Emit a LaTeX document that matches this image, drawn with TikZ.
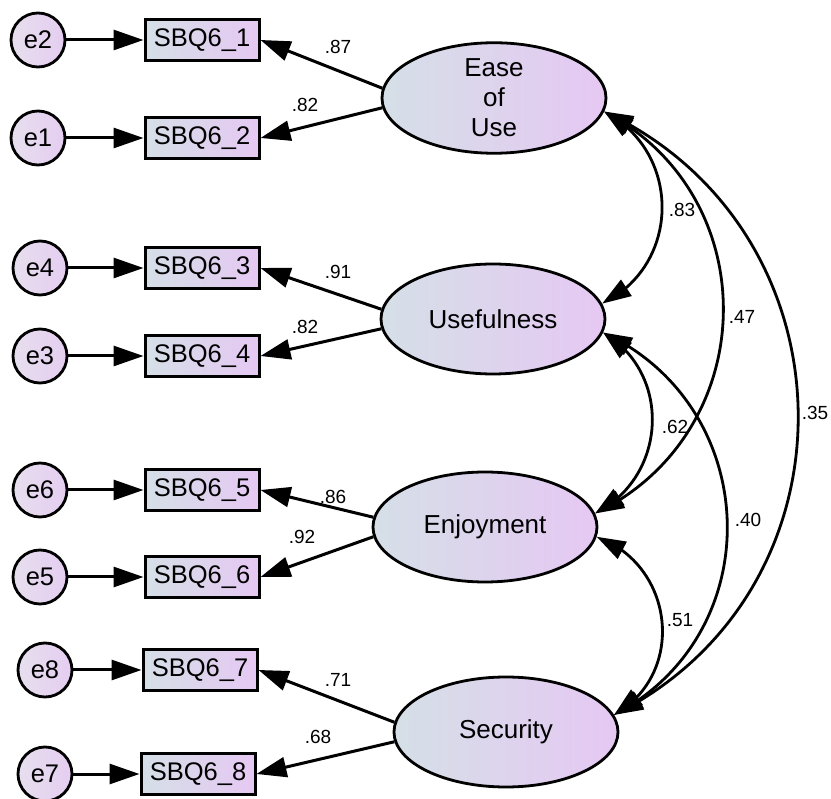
\documentclass[tikz,border=0pt]{standalone}
\usepackage{fontspec}
\setmainfont{Liberation Sans}
\usetikzlibrary{arrows.meta,shapes.geometric,bending}
\definecolor{paleblue}{HTML}{D5DFE7}
\definecolor{lavender}{HTML}{E6C8F3}
\definecolor{errleft}{HTML}{E6DFEE}
\definecolor{errright}{HTML}{E5CDF1}

\begin{document}
\begin{tikzpicture}[x=1pt,y=-1pt,
  latent/.style={ellipse,draw,line width=2.8pt,minimum width=224pt,minimum height=110pt,
    inner sep=0pt,left color=paleblue,right color=lavender,align=center,
    font=\fontsize{26}{30}\selectfont},
  item/.style={rectangle,draw,line width=3pt,minimum width=114pt,minimum height=41pt,
    inner sep=0pt,left color=paleblue,right color=lavender,
    font=\fontsize{25.5}{30}\selectfont},
  err/.style={circle,draw,line width=2.8pt,minimum size=54pt,inner sep=0pt,
    left color=errleft,right color=errright,font=\fontsize{25.5}{30}\selectfont},
  coef/.style={inner sep=0pt,font=\fontsize{19}{22}\selectfont},
  path1/.style={line width=3pt,-{Triangle[length=30pt,width=20pt]}},
  cov/.style={line width=2.8pt,{Triangle[length=29pt,width=19pt]}-{Triangle[length=29pt,width=19pt]}}
]
\useasboundingbox (0,0) rectangle (831,799);

% latent factors
\node[latent] (ease) at (494,98) {Ease\\of\\Use};
\node[latent] (use)  at (493,319) {Usefulness};
\node[latent] (enj)  at (485,527) {Enjoyment};
\node[latent] (sec)  at (506,732) {Security};

% observed items
\node[item] (s1) at (202,40)  {SBQ6\_1};
\node[item] (s2) at (202,138) {SBQ6\_2};
\node[item] (s3) at (202,268) {SBQ6\_3};
\node[item] (s4) at (202,356) {SBQ6\_4};
\node[item] (s5) at (202,490) {SBQ6\_5};
\node[item] (s6) at (202,577) {SBQ6\_6};
\node[item] (s7) at (200,670) {SBQ6\_7};
\node[item] (s8) at (198,774) {SBQ6\_8};

% error terms
\node[err] (e2) at (38,40)  {e2};
\node[err] (e1) at (38,138) {e1};
\node[err] (e4) at (40,268) {e4};
\node[err] (e3) at (40,356) {e3};
\node[err] (e6) at (40,490) {e6};
\node[err] (e5) at (40,577) {e5};
\node[err] (e8) at (45,670) {e8};
\node[err] (e7) at (45,774) {e7};

% error paths
\foreach \e/\s in {e2/s1,e1/s2,e4/s3,e3/s4,e6/s5,e5/s6,e8/s7,e7/s8}
  \draw[path1] (\e) -- (\s.west);

% factor loadings
\draw[path1] (ease.175) -- (s1.east);
\draw[path1] (ease.185) -- (s2.east);
\draw[path1] (use.175)  -- (s3.east);
\draw[path1] (use.185)  -- (s4.east);
\draw[path1] (enj.175)  -- (s5.east);
\draw[path1] (enj.185)  -- (s6.east);
\draw[path1] (sec.175)  -- (s7.east);
\draw[path1] (sec.185)  -- (s8.east);

\node[coef] (l1) at (338,47)  {.87};
\node[coef] (l2) at (305,105) {.82};
\node[coef] (l3) at (338,272) {.91};
\node[coef] (l4) at (305,327) {.82};
\node[coef] (l5) at (333,497) {.86};
\node[coef] (l6) at (302,537) {.92};
\node[coef] (l7) at (338,680) {.71};
\node[coef] (l8) at (318,737) {.68};

% factor covariances, drawn as circular arcs
\draw[cov] (ease.-7) .. controls (682,152)   and (681.5,265)   .. (use.8);
\draw[cov] (ease.-7) .. controls (767.4,197) and (761.7,433.4) .. (enj.7);
\draw[cov] (ease.-7) .. controls (857.5,230) and (864.9,589.7) .. (sec.9);
\draw[cov] (use.-7)  .. controls (672.4,373.5) and (667.5,476.5) .. (enj.7);
\draw[cov] (use.-7)  .. controls (762.7,406.6) and (770.8,632.8) .. (sec.9);
\draw[cov] (enj.-5)  .. controls (674.7,565.1) and (686.9,673.8) .. (sec.9);

\node[coef] (c1) at (682,210) {.83};
\node[coef] (c2) at (742,317) {.47};
\node[coef] (c3) at (815,413) {.35};
\node[coef] (c4) at (675,427) {.62};
\node[coef] (c5) at (748,520) {.40};
\node[coef] (c6) at (680,620) {.51};
\end{tikzpicture}
\end{document}
